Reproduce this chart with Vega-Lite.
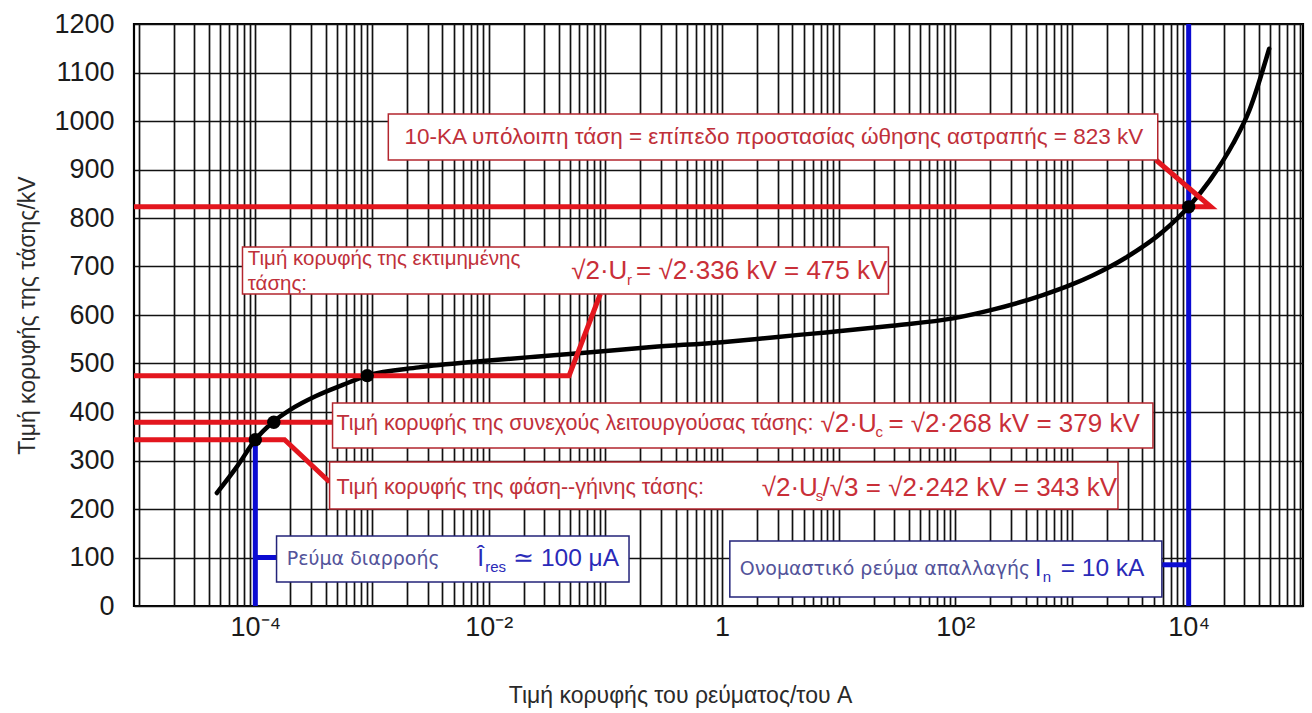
{
  "$schema": "https://vega.github.io/schema/vega-lite/v6.json",
  "width": 1169,
  "height": 582,
  "autosize": {"type": "none"},
  "padding": {"left": 134, "top": 24, "right": 9, "bottom": 107},
  "background": "white",
  "config": {
    "font": "Liberation Sans",
    "view": {"stroke": "#000000", "strokeWidth": 2.2}
  },
  "datasets": {
    "curve": [
      {"a": 4.68e-5, "kv": 233},
      {"a": 7.08e-5, "kv": 290},
      {"a": 1.0e-4, "kv": 343},
      {"a": 1.41e-4, "kv": 379},
      {"a": 2.0e-4, "kv": 405},
      {"a": 3.31e-4, "kv": 433},
      {"a": 5.62e-4, "kv": 456},
      {"a": 9.1e-4, "kv": 475},
      {"a": 2.51e-3, "kv": 492},
      {"a": 8.91e-3, "kv": 505},
      {"a": 0.0251, "kv": 514},
      {"a": 0.0525, "kv": 520},
      {"a": 0.251, "kv": 534},
      {"a": 1, "kv": 544},
      {"a": 2.09, "kv": 551},
      {"a": 4.57, "kv": 559},
      {"a": 7.76, "kv": 564},
      {"a": 28.8, "kv": 578},
      {"a": 95.5, "kv": 593},
      {"a": 209, "kv": 611},
      {"a": 562, "kv": 641},
      {"a": 1000, "kv": 663},
      {"a": 1514, "kv": 682},
      {"a": 2884, "kv": 718},
      {"a": 6026, "kv": 772},
      {"a": 10000, "kv": 823},
      {"a": 15136, "kv": 877},
      {"a": 23988, "kv": 953},
      {"a": 33113, "kv": 1022},
      {"a": 48978, "kv": 1149}
    ],
    "dots": [
      {"a": 1.0e-4, "kv": 343},
      {"a": 1.44e-4, "kv": 379},
      {"a": 9.1e-4, "kv": 475},
      {"a": 10000, "kv": 823}
    ],
    "redLeaders": [
      {"id": "r823", "step": 1, "a": 9.12e-6, "kv": 823},
      {"id": "r823", "step": 2, "a": 15490, "kv": 823},
      {"id": "r823", "step": 3, "a": 5250, "kv": 919.6},
      {"id": "r475", "step": 1, "a": 9.12e-6, "kv": 475},
      {"id": "r475", "step": 2, "a": 0.0489, "kv": 475},
      {"id": "r475", "step": 3, "a": 0.0906, "kv": 643.3},
      {"id": "r379", "step": 1, "a": 9.12e-6, "kv": 379},
      {"id": "r379", "step": 2, "a": 4.59e-4, "kv": 379},
      {"id": "r343", "step": 1, "a": 9.12e-6, "kv": 343},
      {"id": "r343", "step": 2, "a": 1.78e-4, "kv": 343},
      {"id": "r343", "step": 3, "a": 4.33e-4, "kv": 255.7}
    ],
    "blueLeaders": [
      {"id": "leak", "step": 1, "a": 1.0e-4, "kv": 0},
      {"id": "leak", "step": 2, "a": 1.0e-4, "kv": 343},
      {"id": "leakTick", "step": 1, "a": 1.0e-4, "kv": 100},
      {"id": "leakTick", "step": 2, "a": 1.52e-4, "kv": 100},
      {"id": "rated", "step": 1, "a": 10000, "kv": 0},
      {"id": "rated", "step": 2, "a": 10000, "kv": 1200},
      {"id": "ratedTick", "step": 1, "a": 5893, "kv": 85},
      {"id": "ratedTick", "step": 2, "a": 10000, "kv": 85}
    ],
    "redBoxes": [
      {"a": 1.38e-3, "a2": 5433, "kv": 1014.4, "kv2": 919.6},
      {"a": 7.76e-5, "a2": 26.7, "kv": 740.2, "kv2": 643.3},
      {"a": 4.59e-4, "a2": 4943, "kv": 418.6, "kv2": 325.8},
      {"a": 4.33e-4, "a2": 2477, "kv": 296.9, "kv2": 200}
    ],
    "blueBoxes": [
      {"a": 1.52e-4, "a2": 0.1596, "kv": 144.3, "kv2": 49.5},
      {"a": 1.167, "a2": 5893, "kv": 134, "kv2": 18.6}
    ],
    "notes": [
      {"part": "redText", "a": 1.9e-3, "kv": 967, "text": "10-KA υπόλοιπη τάση = επίπεδο προστασίας ώθησης αστραπής = 823 kV"},
      {"part": "redTwoLine", "a": 8.61e-5, "kv": 716, "text": "Τιμή κορυφής της εκτιμημένης"},
      {"part": "redTwoLine", "a": 8.61e-5, "kv": 663, "text": "τάσης:"},
      {"part": "redFormula", "a": 0.051, "kv": 690.7, "text": "√2·U"},
      {"part": "redFormula", "a": 0.1833, "kv": 690.7, "text": "= √2·336 kV = 475 kV"},
      {"part": "redSub", "a": 0.1533, "kv": 672, "text": "r"},
      {"part": "redLabel", "a": 4.96e-4, "kv": 375.3, "text": "Τιμή κορυφής της συνεχούς λειτουργούσας τάσης:"},
      {"part": "redFormula", "a": 7.0, "kv": 375.3, "text": "√2·U"},
      {"part": "redFormula", "a": 26.7, "kv": 375.3, "text": "= √2·268 kV = 379 kV"},
      {"part": "redSub", "a": 20.7, "kv": 358.8, "text": "c"},
      {"part": "redLabel", "a": 4.96e-4, "kv": 243.3, "text": "Τιμή κορυφής της φάση--γήινης τάσης:"},
      {"part": "redFormula", "a": 2.19, "kv": 243.3, "text": "√2·U"},
      {"part": "redFormula", "a": 7.28, "kv": 243.3, "text": "/√3 = √2·242 kV = 343 kV"},
      {"part": "redSub", "a": 6.35, "kv": 226.8, "text": "s"},
      {"part": "blueName", "a": 1.86e-4, "kv": 96.9, "text": "Ρεύμα διαρροής"},
      {"part": "blueValue", "a": 7.98e-3, "kv": 96.9, "text": "Î"},
      {"part": "blueSub", "a": 9.35e-3, "kv": 80.4, "text": "res"},
      {"part": "blueValue", "a": 0.0162, "kv": 96.9, "text": "≃ 100 μA"},
      {"part": "blueName", "a": 1.42, "kv": 76.3, "text": "Ονομαστικό ρεύμα απαλλαγής"},
      {"part": "blueValue", "a": 480, "kv": 76.3, "text": "I"},
      {"part": "blueSub", "a": 562, "kv": 59.8, "text": "n"},
      {"part": "blueValue", "a": 800, "kv": 76.3, "text": "= 10 kA"}
    ]
  },
  "encoding": {
    "x": {
      "field": "a",
      "type": "quantitative",
      "scale": {"type": "log", "domain": [9.12e-6, 95500], "nice": false, "zero": false},
      "axis": {
        "title": "Τιμή κορυφής του ρεύματος/του A",
        "values": [
          1e-5, 2e-5, 3e-5, 4e-5, 5e-5, 6e-5, 7e-5, 8e-5, 9e-5,
          1e-4, 2e-4, 3e-4, 4e-4, 5e-4, 6e-4, 7e-4, 8e-4, 9e-4,
          0.001, 0.002, 0.003, 0.004, 0.005, 0.006, 0.007, 0.008, 0.009,
          0.01, 0.02, 0.03, 0.04, 0.05, 0.06, 0.07, 0.08, 0.09,
          0.1, 0.2, 0.3, 0.4, 0.5, 0.6, 0.7, 0.8, 0.9,
          1, 2, 3, 4, 5, 6, 7, 8, 9,
          10, 20, 30, 40, 50, 60, 70, 80, 90,
          100, 200, 300, 400, 500, 600, 700, 800, 900,
          1000, 2000, 3000, 4000, 5000, 6000, 7000, 8000, 9000,
          10000, 20000, 30000, 40000, 50000, 60000, 70000, 80000, 90000
        ],
        "labelExpr": "datum.value == 0.0001 ? '10⁻⁴' : datum.value == 0.01 ? '10⁻²' : datum.value == 1 ? '1' : datum.value == 100 ? '10²' : datum.value == 10000 ? '10⁴' : ''",
        "labelOverlap": false,
        "labelBound": false,
        "labelFlush": false,
        "labelFontSize": 27,
        "labelColor": "#1a1a1a",
        "labelPadding": 8,
        "ticks": false,
        "domain": false,
        "grid": true,
        "gridColor": "#111111",
        "gridWidth": 1.7,
        "gridOpacity": 1,
        "titleFontSize": 23,
        "titleFontWeight": "normal",
        "titleColor": "#2a2a2a",
        "titleX": 546,
        "titleY": 96,
        "titleBaseline": "alphabetic"
      }
    },
    "y": {
      "field": "kv",
      "type": "quantitative",
      "scale": {"domain": [0, 1200], "nice": false, "zero": true},
      "axis": {
        "title": "Τιμή κορυφής της τάσης/kV",
        "values": [0, 100, 200, 300, 400, 500, 600, 700, 800, 900, 1000, 1100, 1200],
        "format": "d",
        "labelFontSize": 27,
        "labelColor": "#1a1a1a",
        "labelPadding": 20,
        "labelOverlap": false,
        "labelBound": false,
        "labelFlush": false,
        "ticks": false,
        "domain": false,
        "grid": true,
        "gridColor": "#111111",
        "gridWidth": 1.7,
        "gridOpacity": 1,
        "titleFontSize": 23,
        "titleFontWeight": "normal",
        "titleColor": "#2a2a2a",
        "titleX": -100,
        "titleY": 291,
        "titleAngle": 270,
        "titleBaseline": "alphabetic"
      }
    }
  },
  "layer": [
    {
      "data": {"name": "blueLeaders"},
      "mark": {"type": "line", "color": "#0b0bd2", "strokeWidth": 5, "strokeCap": "butt"},
      "encoding": {"detail": {"field": "id"}, "order": {"field": "step"}}
    },
    {
      "data": {"name": "curve"},
      "mark": {"type": "line", "color": "#000000", "strokeWidth": 4.5, "interpolate": "monotone", "strokeCap": "round"},
      "encoding": {}
    },
    {
      "data": {"name": "redLeaders"},
      "mark": {"type": "line", "color": "#e3161e", "strokeWidth": 5, "strokeCap": "butt", "strokeJoin": "miter"},
      "encoding": {"detail": {"field": "id"}, "order": {"field": "step"}}
    },
    {
      "data": {"name": "dots"},
      "mark": {"type": "point", "filled": true, "color": "#000000", "size": 180, "opacity": 1},
      "encoding": {}
    },
    {
      "data": {"name": "redBoxes"},
      "mark": {"type": "rect", "fill": "#ffffff", "stroke": "#b3262e", "strokeWidth": 1.5},
      "encoding": {"x2": {"field": "a2"}, "y2": {"field": "kv2"}}
    },
    {
      "data": {"name": "blueBoxes"},
      "mark": {"type": "rect", "fill": "#ffffff", "stroke": "#23237a", "strokeWidth": 1.5},
      "encoding": {"x2": {"field": "a2"}, "y2": {"field": "kv2"}}
    },
    {
      "data": {"name": "notes"},
      "transform": [{"filter": "datum.part == 'redText'"}],
      "mark": {"type": "text", "align": "left", "baseline": "middle", "fontSize": 22.5, "color": "#c0303a"},
      "encoding": {"text": {"field": "text"}}
    },
    {
      "data": {"name": "notes"},
      "transform": [{"filter": "datum.part == 'redTwoLine'"}],
      "mark": {"type": "text", "align": "left", "baseline": "middle", "fontSize": 20.5, "color": "#c0303a"},
      "encoding": {"text": {"field": "text"}}
    },
    {
      "data": {"name": "notes"},
      "transform": [{"filter": "datum.part == 'redLabel'"}],
      "mark": {"type": "text", "align": "left", "baseline": "middle", "fontSize": 21.5, "color": "#c0303a"},
      "encoding": {"text": {"field": "text"}}
    },
    {
      "data": {"name": "notes"},
      "transform": [{"filter": "datum.part == 'redFormula'"}],
      "mark": {"type": "text", "align": "left", "baseline": "middle", "fontSize": 26, "color": "#c92f38"},
      "encoding": {"text": {"field": "text"}}
    },
    {
      "data": {"name": "notes"},
      "transform": [{"filter": "datum.part == 'redSub'"}],
      "mark": {"type": "text", "align": "left", "baseline": "middle", "fontSize": 15, "color": "#c92f38"},
      "encoding": {"text": {"field": "text"}}
    },
    {
      "data": {"name": "notes"},
      "transform": [{"filter": "datum.part == 'blueName'"}],
      "mark": {"type": "text", "align": "left", "baseline": "middle", "fontSize": 19, "font": "DejaVu Sans", "color": "#53539a"},
      "encoding": {"text": {"field": "text"}}
    },
    {
      "data": {"name": "notes"},
      "transform": [{"filter": "datum.part == 'blueValue'"}],
      "mark": {"type": "text", "align": "left", "baseline": "middle", "fontSize": 24.5, "color": "#2a2ab8"},
      "encoding": {"text": {"field": "text"}}
    },
    {
      "data": {"name": "notes"},
      "transform": [{"filter": "datum.part == 'blueSub'"}],
      "mark": {"type": "text", "align": "left", "baseline": "middle", "fontSize": 15, "color": "#2a2ab8"},
      "encoding": {"text": {"field": "text"}}
    }
  ]
}
